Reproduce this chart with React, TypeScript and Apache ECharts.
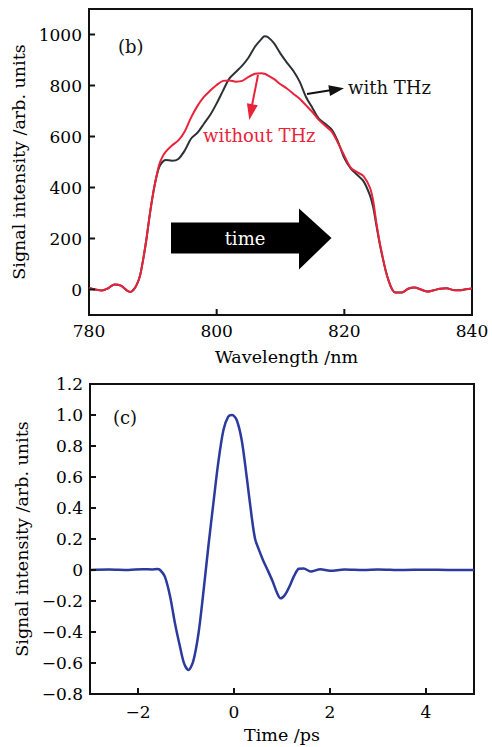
import React, { useEffect, useRef } from "react";
import * as echarts from "echarts";

// ---- panel (b): spectra ----
const wavelength = [
  780, 781, 782, 783, 784, 785, 786, 786.5, 787, 787.5, 788, 788.5, 789, 789.5, 790, 790.5,
  791, 791.5, 792, 793, 794, 795, 796, 797, 798, 799, 800, 801, 802, 803, 804, 805, 806, 807,
  807.5, 808, 809, 810, 811, 812, 813, 814, 815, 816, 817, 818, 819, 820, 821, 822, 823, 824,
  824.5, 825, 825.5, 826, 826.5, 827, 827.5, 828, 829, 830, 831, 832, 833, 834, 835, 836, 837,
  838, 839, 840,
];
const withTHz = [
  6, 0, -4, 5, 20, 15, -5, -10, 0, 20, 55, 120, 198, 290, 370, 435,
  480, 500, 508, 505, 512, 545, 592, 615, 650, 685, 730, 780, 828, 853, 878, 910, 952, 982,
  993, 990, 965, 925, 890, 858, 815, 755, 712, 670, 650, 628, 580, 515, 475, 450, 425, 370,
  325, 255, 185, 125, 72, 30, 0, -12, -12, 3, 8, 0, -8, -3, 3, 5, -2,
  -3, 1, 4,
];
const withoutTHz = [
  6, 0, -4, 5, 20, 15, -5, -10, 0, 20, 55, 120, 198, 290, 370, 435,
  490, 520, 540, 565, 585, 620, 675, 720, 755, 780, 802, 818, 820, 815, 818, 834, 846, 848,
  846, 840, 825, 805, 788, 768, 748, 722, 696, 665, 642, 620, 575, 525, 478, 460, 445, 400,
  350, 265, 190, 128, 72, 30, 0, -12, -12, 3, 8, 0, -8, -3, 3, 5, -2,
  -3, 1, 4,
];
const xTicksB = [780, 800, 820, 840];
const yTicksB = [0, 200, 400, 600, 800, 1000];

// ---- panel (c): time-domain signal ----
const timePs = [
  -3, -2.6, -2.2, -1.9, -1.7, -1.6, -1.54, -1.44, -1.33, -1.23, -1.125, -1.04, -0.95, -0.85,
  -0.74, -0.64, -0.535, -0.43, -0.33, -0.22, -0.12, -0.04, 0.056, 0.16, 0.264, 0.37, 0.44, 0.52,
  0.61, 0.7, 0.8, 0.9, 0.97, 1.06, 1.15, 1.25, 1.35, 1.45, 1.6, 1.8, 2.0, 2.3, 2.7, 3.0, 3.5,
  4.0, 4.5, 5.0,
];
const signalC = [
  0, 0.003, 0, 0.005, 0.004, 0.006, 0, -0.043, -0.172, -0.344, -0.495, -0.602, -0.645, -0.59,
  -0.41, -0.15, 0.15, 0.43, 0.688, 0.903, 0.989, 1.0, 0.968, 0.839, 0.602, 0.34, 0.2, 0.13,
  0.06, 0.0, -0.07, -0.15, -0.183, -0.161, -0.11, -0.04, 0.008, 0.01, -0.01, 0.005, -0.005,
  0.003, 0, 0.004, 0, 0.002, 0, 0,
];
const xTicksC = [-2, 0, 2, 4];
const yTicksC = [-0.8, -0.6, -0.4, -0.2, 0, 0.2, 0.4, 0.6, 0.8, 1.0, 1.2];

const FONT = "DejaVu Serif";
const BLACK = "#2c3136";
const RED = "#e8233a";
const BLUE = "#2b3a9c";

function zip(xs: number[], ys: number[]) {
  return xs.map((x, i) => [x, ys[i]]);
}

function fmtC(v: number) {
  if (Math.abs(v) < 1e-9) return "0";
  const s = v.toFixed(1);
  return s.replace("-", "\u2212");
}

function fmtInt(v: number) {
  return String(Math.round(v)).replace("-", "\u2212");
}

export default function App() {
  const ref = useRef<HTMLDivElement>(null);

  useEffect(() => {
    if (!ref.current) return;
    const chart = echarts.init(ref.current, null, { renderer: "svg" });

    const axisCommon = {
      axisLine: { show: false, onZero: false },
      axisTick: { show: false },
      splitLine: { show: false },
    };
    const labelStyle = { color: "#000", fontFamily: FONT, fontSize: 17 };
    const nameStyle = { color: "#000", fontFamily: FONT, fontSize: 17.5 };

    const arrowHead = (tipX: number, tipY: number, fromX: number, fromY: number, len: number, half: number, color: string) => {
      const dx = tipX - fromX;
      const dy = tipY - fromY;
      const L = Math.sqrt(dx * dx + dy * dy);
      const ux = dx / L;
      const uy = dy / L;
      const bx = tipX - ux * len;
      const by = tipY - uy * len;
      return {
        type: "polygon",
        shape: {
          points: [
            [tipX, tipY],
            [bx - uy * half, by + ux * half],
            [bx + uy * half, by - ux * half],
          ],
        },
        style: { fill: color },
        z: 100,
      };
    };

    chart.setOption({
      animation: false,
      backgroundColor: "#ffffff",
      grid: [
        { left: 89, right: 20, top: 9, height: 306, show: true, borderColor: "#111", borderWidth: 2 },
        { left: 90, right: 18, top: 384, height: 310, show: true, borderColor: "#111", borderWidth: 2 },
      ],
      xAxis: [
        {
          type: "value",
          gridIndex: 0,
          position: "bottom",
          min: 780,
          max: 840,
          ...axisCommon,
          axisLabel: { ...labelStyle, margin: 7, customValues: xTicksB, formatter: fmtInt },
          name: "Wavelength /nm",
          nameLocation: "middle",
          nameGap: 33,
          nameTextStyle: { ...nameStyle, padding: [0, 0, 0, 12] },
        },
        {
          type: "value",
          gridIndex: 1,
          position: "bottom",
          min: -3,
          max: 5,
          ...axisCommon,
          axisLabel: { ...labelStyle, margin: 9, customValues: xTicksC, formatter: fmtInt },
          name: "Time /ps",
          nameLocation: "middle",
          nameGap: 32,
          nameTextStyle: nameStyle,
        },
      ],
      yAxis: [
        {
          type: "value",
          gridIndex: 0,
          position: "left",
          min: -100,
          max: 1100,
          ...axisCommon,
          axisLabel: { ...labelStyle, margin: 7, customValues: yTicksB, formatter: fmtInt },
          name: "Signal intensity /arb. units",
          nameLocation: "middle",
          nameGap: 55,
          nameTextStyle: nameStyle,
        },
        {
          type: "value",
          gridIndex: 1,
          position: "left",
          min: -0.8,
          max: 1.2,
          ...axisCommon,
          axisLabel: { ...labelStyle, margin: 7, customValues: yTicksC, formatter: fmtC },
          name: "Signal intensity /arb. units",
          nameLocation: "middle",
          nameGap: 56,
          nameTextStyle: nameStyle,
        },
      ],
      series: [
        {
          name: "with THz",
          type: "line",
          xAxisIndex: 0,
          yAxisIndex: 0,
          data: zip(wavelength, withTHz),
          showSymbol: false,
          smooth: 0.3,
          lineStyle: { color: BLACK, width: 2 },
          z: 2,
        },
        {
          name: "without THz",
          type: "line",
          xAxisIndex: 0,
          yAxisIndex: 0,
          data: zip(wavelength, withoutTHz),
          showSymbol: false,
          smooth: 0.3,
          lineStyle: { color: RED, width: 2 },
          z: 3,
        },
        {
          name: "signal",
          type: "line",
          xAxisIndex: 1,
          yAxisIndex: 1,
          data: zip(timePs, signalC),
          showSymbol: false,
          smooth: 0.3,
          lineStyle: { color: BLUE, width: 2.5 },
          z: 2,
        },
      ],
    });

    // inward tick marks, placed through the axes' own scales
    const ticks: any[] = [];
    const TL = 6;
    const tickStyle = { stroke: "#111", lineWidth: 2 };
    const addXTicks = (axisIdx: number, vals: number[], yEdge: number) => {
      vals.forEach((v) => {
        const p = chart.convertToPixel({ xAxisIndex: axisIdx, yAxisIndex: axisIdx }, [v, yEdge]) as number[];
        ticks.push({ type: "line", shape: { x1: p[0], y1: p[1], x2: p[0], y2: p[1] - TL }, style: tickStyle, z: 50 });
      });
    };
    const addYTicks = (axisIdx: number, vals: number[], xEdge: number) => {
      vals.forEach((v) => {
        const p = chart.convertToPixel({ xAxisIndex: axisIdx, yAxisIndex: axisIdx }, [xEdge, v]) as number[];
        ticks.push({ type: "line", shape: { x1: p[0], y1: p[1], x2: p[0] + TL, y2: p[1] }, style: tickStyle, z: 50 });
      });
    };
    addXTicks(0, xTicksB.slice(1, -1), -100);
    addYTicks(0, yTicksB, 780);
    addXTicks(1, xTicksC, -0.8);
    addYTicks(1, yTicksC.slice(1, -1), -3);

    chart.setOption({
      graphic: [
        ...ticks,
        { type: "text", left: 118, top: 37, style: { text: "(b)", fontFamily: FONT, fontSize: 18, fill: "#111" } },
        { type: "text", left: 113, top: 408, style: { text: "(c)", fontFamily: FONT, fontSize: 18, fill: "#111" } },
        { type: "text", left: 348, top: 78, style: { text: "with THz", fontFamily: FONT, fontSize: 18, fill: "#111" } },
        { type: "text", left: 203, top: 126, style: { text: "without THz", fontFamily: FONT, fontSize: 18, fill: RED } },
        // black pointer arrow
        { type: "line", shape: { x1: 307, y1: 94, x2: 332, y2: 90 }, style: { stroke: "#111", lineWidth: 2 }, z: 100 },
        arrowHead(344, 88.3, 307, 94, 15, 5.5, "#111"),
        // red pointer arrow
        { type: "line", shape: { x1: 258, y1: 75, x2: 251.5, y2: 108 }, style: { stroke: RED, lineWidth: 2 }, z: 100 },
        arrowHead(249.3, 120, 258, 75, 16, 5.5, RED),
        // big "time" arrow
        {
          type: "polygon",
          shape: {
            points: [
              [171, 222.5],
              [299, 222.5],
              [299, 208.5],
              [331.5, 238],
              [299, 269.5],
              [299, 253.5],
              [171, 253.5],
            ],
          },
          style: { fill: "#000" },
          z: 100,
        },
        {
          type: "text",
          x: 245,
          y: 238,
          style: { text: "time", fontFamily: FONT, fontSize: 18, fill: "#fff", align: "center", verticalAlign: "middle" },
          z: 101,
        },
      ],
    });

    return () => chart.dispose();
  }, []);

  return (
    <div
      ref={ref}
      style={{ position: "absolute", left: 0, top: 0, width: 492, height: 747, background: "#fff" }}
    />
  );
}
